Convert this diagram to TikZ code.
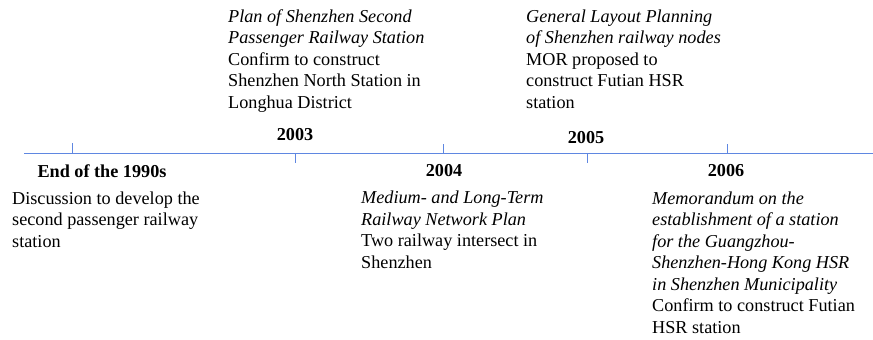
\documentclass[tikz,border=0pt]{standalone}
\usepackage{fontspec}
\setmainfont{Liberation Serif}
\definecolor{axisblue}{RGB}{95,135,225}

\begin{document}
\begin{tikzpicture}[%
    x=1pt, y=-1pt,              % pixel-like units, y runs downwards
    ]
\tikzset{
  axis/.style={draw=axisblue, line width=1pt},
  year/.style={font=\fontsize{18.2}{21.5}\selectfont\bfseries, inner sep=0pt, anchor=base},
  desc/.style={font=\fontsize{18.2}{21.5}\selectfont, align=left, inner sep=0pt, anchor=base west} % base = last line
}
    \useasboundingbox (0,0) rectangle (873,340);
    % time axis
    \coordinate (ax0) at (24,153);
    \coordinate (ax1) at (873,153);
        \draw [axis] (ax0) -- (ax1);
    % tick marks
    \coordinate (t90) at (72,153);
    \coordinate (t03) at (295,153);
    \coordinate (t04) at (443,153);
    \coordinate (t05) at (587,153);
    \coordinate (t06) at (727,153);
        \draw [axis] (t90) -- ++(0,-10);
        \draw [axis] (t03) -- ++(0,10);
        \draw [axis] (t04) -- ++(0,-9);
        \draw [axis] (t05) -- ++(0,10);
        \draw [axis] (t06) -- ++(0,-9);
    % years
    \node [year] (y90) at (102,177) {End of the 1990s};
    \node [year] (y03) at (295,140) {2003};
    \node [year] (y04) at (444,176) {2004};
    \node [year] (y05) at (586,143) {2005};
    \node [year] (y06) at (726,176) {2006};
    % events
    \node [desc] (d90) at (12,247) {Discussion to develop the\\second passenger railway\\station};
    \node [desc] (d03) at (228,108) {\textit{Plan of Shenzhen Second}\\\textit{Passenger Railway Station}\\Confirm to construct\\Shenzhen North Station in\\Longhua District};
    \node [desc] (d04) at (361,268) {\textit{Medium- and Long-Term}\\\textit{Railway Network Plan}\\Two railway intersect in\\Shenzhen};
    \node [desc] (d05) at (526,108) {\textit{General Layout Planning}\\\textit{of Shenzhen railway nodes}\\MOR proposed to\\construct Futian HSR\\station};
    \node [desc] (d06) at (652,333) {\textit{Memorandum on the}\\\textit{establishment of a station}\\\textit{for the Guangzhou-}\\\textit{Shenzhen-Hong Kong HSR}\\\textit{in Shenzhen Municipality}\\Confirm to construct Futian\\HSR station};
\end{tikzpicture}
\end{document}
